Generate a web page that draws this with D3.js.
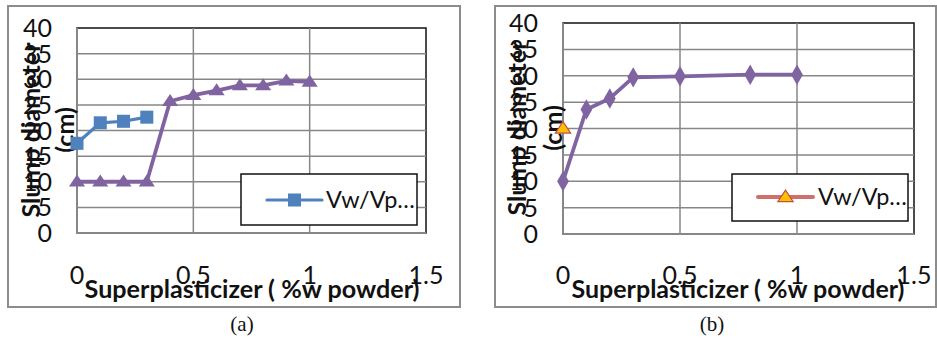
<!DOCTYPE html>
<html>
<head>
<meta charset="utf-8">
<script src="https://cdn.jsdelivr.net/npm/d3@7"></script>
<style>
  html, body { margin: 0; padding: 0; background: #fff; }
  svg { display: block; }
</style>
</head>
<body>
<svg id="chart" width="937" height="341"></svg>
<script>
// Axis ticks shared by both panels
const xTicks = [0, 0.5, 1, 1.5];
const yTicks = [0, 5, 10, 15, 20, 25, 30, 35, 40];
const xTickLabels = ["0", "0.5", "1", "1.5"];

// Panel (a)
const aSquaresX = [0, 0.1, 0.2, 0.3];
const aSquaresY = [17.5, 21.5, 21.8, 22.6];
const aTrianglesX = [0, 0.1, 0.2, 0.3, 0.4, 0.5, 0.6, 0.7, 0.8, 0.9, 1.0];
const aTrianglesY = [10, 10, 10, 10, 25.7, 26.9, 27.8, 28.8, 28.8, 29.7, 29.5];

// Panel (b)
const bDiamondsX = [0, 0.1, 0.2, 0.3, 0.5, 0.8, 1.0];
const bDiamondsY = [10, 23.6, 25.7, 29.7, 29.9, 30.2, 30.2];
const bTriangleX = [0];
const bTriangleY = [20];

const legendLabel = "Vw/Vp…";
const xTitle = "Superplasticizer ( %w powder)";
const yTitle1 = "Slump diameter";
const yTitle2 = "(cm)";

const BLUE = "#4f81bd", PURPLE = "#8064a2", RED = "#c0504d", GOLD = "#ffc000";
const GRID = "#878787";
const FONT = "Lato, 'Open Sans', sans-serif";

const svg = d3.select("#chart");

function zip(xs, ys) { return xs.map((x, i) => ({ x, y: ys[i] })); }

// squat triangle marker, wider than tall
const wideTriangle = {
  draw(context, size) {
    const w = Math.sqrt(size * 2.6);
    const h = w * 0.75;
    context.moveTo(0, -h * 0.6);
    context.lineTo(w / 2, h * 0.4);
    context.lineTo(-w / 2, h * 0.4);
    context.closePath();
  }
};

// scale a text's font size so that it spans the wanted width
function fitWidth(sel, width) {
  const fs = +sel.attr("font-size");
  const w = sel.node().getComputedTextLength();
  if (w > 0) sel.attr("font-size", (fs * width / w).toFixed(2));
}

function drawPanel(p) {
  const g = svg.append("g");

  // outer frame
  g.append("rect")
    .attr("x", p.frame[0]).attr("y", p.frame[1])
    .attr("width", p.frame[2] - p.frame[0]).attr("height", p.frame[3] - p.frame[1])
    .attr("fill", "#fff").attr("stroke", "#8c8c8c").attr("stroke-width", 2);

  const x = d3.scaleLinear().domain([0, 1.5]).range([p.plot.left, p.plot.right]);
  const y = d3.scaleLinear().domain([0, 40]).range([p.plot.bottom, p.plot.top]);

  // plot area with dark top/right edge
  g.append("rect")
    .attr("x", x(0)).attr("y", y(40))
    .attr("width", x(1.5) - x(0)).attr("height", y(0) - y(40))
    .attr("fill", "#fff").attr("stroke", "#111").attr("stroke-width", 1.5);

  // gridlines
  g.append("g").selectAll("line").data(yTicks.slice(1, -1)).join("line")
    .attr("x1", x(0)).attr("x2", x(1.5))
    .attr("y1", d => y(d)).attr("y2", d => y(d))
    .attr("stroke", GRID).attr("stroke-width", 1.5);
  g.append("g").selectAll("line").data(xTicks.slice(1, -1)).join("line")
    .attr("y1", y(0)).attr("y2", y(40))
    .attr("x1", d => x(d)).attr("x2", d => x(d))
    .attr("stroke", GRID).attr("stroke-width", 1.5);

  // axis lines (left and bottom)
  g.append("line").attr("x1", x(0)).attr("x2", x(0)).attr("y1", y(0) + 1).attr("y2", y(40))
    .attr("stroke", GRID).attr("stroke-width", 2);
  g.append("line").attr("x1", x(0) - 1).attr("x2", x(1.5)).attr("y1", y(0)).attr("y2", y(0))
    .attr("stroke", GRID).attr("stroke-width", 2);

  // y tick labels
  g.append("g").selectAll("text").data(yTicks).join("text")
    .attr("x", p.yLabelRight).attr("y", d => y(d))
    .attr("dy", "0.36em")
    .attr("text-anchor", "end")
    .attr("font-family", FONT).attr("font-size", 25).attr("fill", "#111")
    .text(d => d);

  // x tick labels
  g.append("g").selectAll("text").data(xTicks).join("text")
    .attr("x", d => x(d)).attr("y", 284)
    .attr("text-anchor", "middle")
    .attr("font-family", FONT).attr("font-size", 25).attr("fill", "#111")
    .text((d, i) => xTickLabels[i]);

  // axis titles
  const xt = g.append("text")
    .attr("x", p.xTitleX).attr("y", 298)
    .attr("text-anchor", "middle")
    .attr("font-family", FONT).attr("font-weight", "bold").attr("font-size", 21).attr("fill", "#111")
    .text(xTitle);
  fitWidth(xt, p.xTitleW);
  const yt1 = g.append("text")
    .attr("transform", `translate(${p.yTitleX1},${p.yTitleY}) rotate(-90)`)
    .attr("text-anchor", "middle").attr("dy", "0.35em")
    .attr("font-family", FONT).attr("font-weight", "bold").attr("font-size", 22).attr("fill", "#111")
    .text(yTitle1);
  fitWidth(yt1, p.yTitleW);
  g.append("text")
    .attr("transform", `translate(${p.yTitleX2},${p.yTitleY}) rotate(-90)`)
    .attr("text-anchor", "middle").attr("dy", "0.35em")
    .attr("font-family", FONT).attr("font-weight", "bold").attr("font-size", yt1.attr("font-size")).attr("fill", "#111")
    .text(yTitle2);

  // series
  const line = d3.line().x(d => x(d.x)).y(d => y(d.y));
  p.series.forEach(s => {
    const pts = zip(s.xs, s.ys);
    if (pts.length > 1) {
      g.append("path").datum(pts)
        .attr("d", line).attr("fill", "none")
        .attr("stroke", s.color).attr("stroke-width", s.width)
        .attr("stroke-linejoin", "round");
    }
    g.append("g").selectAll("path").data(pts).join("path")
      .attr("transform", d => `translate(${x(d.x)},${y(d.y)})`)
      .attr("d", d3.symbol().type(s.symbol).size(s.size))
      .attr("fill", s.fill).attr("stroke", s.stroke || "none").attr("stroke-width", s.strokeWidth || 0);
  });

  // legend
  const L = p.legend;
  g.append("rect")
    .attr("x", L.x0).attr("y", L.y0).attr("width", L.x1 - L.x0).attr("height", L.y1 - L.y0)
    .attr("fill", "#fff").attr("stroke", "#111").attr("stroke-width", 1.5);
  const ls = p.legendSeries;
  g.append("line")
    .attr("x1", L.lineX0).attr("x2", L.lineX1).attr("y1", L.lineY).attr("y2", L.lineY)
    .attr("stroke", ls.color).attr("stroke-width", ls.width).attr("stroke-linecap", "round");
  g.append("path")
    .attr("transform", `translate(${(L.lineX0 + L.lineX1) / 2},${L.lineY})`)
    .attr("d", d3.symbol().type(ls.symbol).size(ls.size))
    .attr("fill", ls.fill).attr("stroke", ls.stroke || "none").attr("stroke-width", ls.strokeWidth || 0);
  const lt = g.append("text")
    .attr("x", L.textX).attr("y", L.lineY).attr("dy", "0.36em")
    .attr("font-family", FONT).attr("font-size", 24).attr("fill", "#111")
    .text(legendLabel);
  fitWidth(lt, L.textW);

  // caption
  g.append("text")
    .attr("x", p.captionX).attr("y", 331)
    .attr("text-anchor", "middle")
    .attr("font-family", "'Liberation Serif', 'Times New Roman', serif").attr("font-size", 21).attr("fill", "#111")
    .text(p.caption);
}

const squareSeries = { xs: aSquaresX, ys: aSquaresY, color: BLUE, width: 3.2, symbol: d3.symbolSquare, size: 170, fill: BLUE };
const triSeriesA = { xs: aTrianglesX, ys: aTrianglesY, color: PURPLE, width: 3.8, symbol: wideTriangle, size: 100, fill: PURPLE };
const diamondSeries = { xs: bDiamondsX, ys: bDiamondsY, color: PURPLE, width: 3.8, symbol: d3.symbolDiamond, size: 120, fill: PURPLE };
const goldSeries = { xs: bTriangleX, ys: bTriangleY, color: "#d0706c", width: 4, symbol: wideTriangle, size: 90, fill: GOLD, stroke: RED, strokeWidth: 1.2 };

drawPanel({
  frame: [8, 6, 460, 307],
  plot: { left: 77, right: 426, top: 28, bottom: 233 },
  yLabelRight: 52,
  xTitleX: 252, xTitleW: 335,
  yTitleX1: 31, yTitleX2: 65, yTitleY: 130, yTitleW: 175,
  series: [triSeriesA, squareSeries],
  legend: { x0: 241, y0: 174, x1: 417, y1: 225, lineX0: 267, lineX1: 322, lineY: 200, textX: 326, textW: 89 },
  legendSeries: squareSeries,
  captionX: 242, caption: "(a)"
});

drawPanel({
  frame: [495, 6, 936, 307],
  plot: { left: 563, right: 914, top: 23, bottom: 234 },
  yLabelRight: 538,
  xTitleX: 738, xTitleW: 333,
  yTitleX1: 517, yTitleX2: 553, yTitleY: 128, yTitleW: 175,
  series: [diamondSeries, goldSeries],
  legend: { x0: 732, y0: 174, x1: 908, y1: 221, lineX0: 758, lineX1: 813, lineY: 197, textX: 818, textW: 89 },
  legendSeries: goldSeries,
  captionX: 712, caption: "(b)"
});
</script>
</body>
</html>
